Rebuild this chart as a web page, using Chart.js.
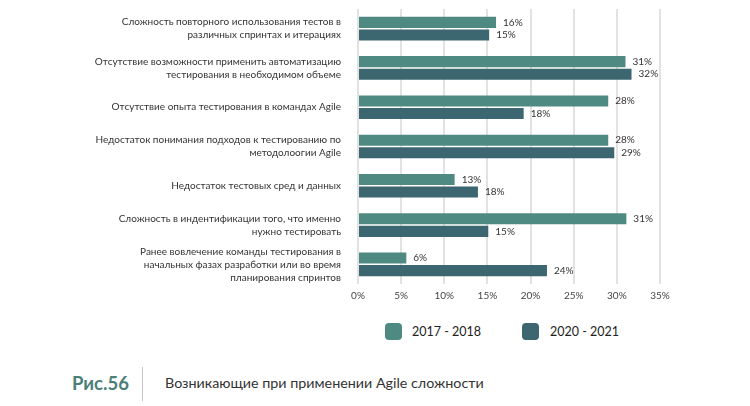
<!DOCTYPE html>
<html>
<head>
<meta charset="utf-8">
<script src="https://cdn.jsdelivr.net/npm/chart.js@4.4.1/dist/chart.umd.min.js"></script>
<style>
  html, body { margin: 0; padding: 0; background: #fff; }
  body { width: 750px; height: 406px; position: relative; overflow: hidden; font-family: Lato, "Noto Sans", sans-serif; }
  #wrap { position: absolute; left: 0; top: 0; width: 750px; height: 312px; }
  .lg-box { position: absolute; top: 323px; width: 17px; height: 17px; border-radius: 4px; }
  .lg-text { position: absolute; top: 323px; line-height: 17px; font-size: 12.5px; color: #222; }
  #fig { position: absolute; left: 72px; top: 372px; font-size: 18.5px; font-weight: bold; color: #4d7f79; }
  #sep { position: absolute; left: 142px; top: 367px; width: 1px; height: 34px; background: #c9c9c9; }
  #caption { position: absolute; left: 165px; top: 374px; font-size: 14.3px; color: #333; }
</style>
</head>
<body>
<div id="wrap"><canvas id="chartCanvas"></canvas></div>
<div id="legend"></div>
<div id="fig">Рис.56</div>
<div id="sep"></div>
<div id="caption">Возникающие при применении Agile сложности</div>
<script>
  // категории (многострочные подписи)
  const categories = [
    ["Сложность повторного использования тестов в", "различных спринтах и итерациях"],
    ["Отсутствие возможности применить автоматизацию", "тестирования в необходимом объеме"],
    ["Отсутствие опыта тестирования в командах Agile"],
    ["Недостаток понимания подходов к тестированию по", "методолоогии Agile"],
    ["Недостаток тестовых сред и данных"],
    ["Сложность в индентификации того, что именно", "нужно тестировать"],
    ["Ранее вовлечение команды тестирования в", "начальных фазах разработки или во время", "планирования спринтов"]
  ];

  // длины столбиков, как они нарисованы
  const values2017 = [16, 31, 29, 29, 11.2, 31.1, 5.6];
  const values2020 = [15.2, 31.7, 19.2, 29.7, 13.9, 15.1, 21.9];

  // подписи над столбиками
  const labels2017 = ["16%", "31%", "28%", "28%", "13%", "31%", "6%"];
  const labels2020 = ["15%", "32%", "18%", "29%", "18%", "15%", "24%"];

  const seriesNames = ["2017 - 2018", "2020 - 2021"];
  const xTicks = [0, 5, 10, 15, 20, 25, 30, 35];

  const color2017 = "#4f8a82";
  const color2020 = "#3c6670";

  // легенда под графиком
  const legendEl = document.getElementById("legend");
  const legendPos = [[385, 412], [522, 550]];
  [color2017, color2020].forEach((c, i) => {
    const box = document.createElement("div");
    box.className = "lg-box";
    box.style.left = legendPos[i][0] + "px";
    box.style.background = c;
    legendEl.appendChild(box);
    const txt = document.createElement("div");
    txt.className = "lg-text";
    txt.style.left = legendPos[i][1] + "px";
    txt.textContent = seriesNames[i];
    legendEl.appendChild(txt);
  });

  // подписи значений справа от столбиков
  const valueLabels = {
    id: "valueLabels",
    afterDatasetsDraw(chart) {
      const ctx = chart.ctx;
      const texts = [labels2017, labels2020];
      ctx.save();
      ctx.font = "10px Lato, sans-serif";
      ctx.fillStyle = "#333";
      ctx.textBaseline = "middle";
      chart.data.datasets.forEach((ds, i) => {
        chart.getDatasetMeta(i).data.forEach((bar, j) => {
          ctx.fillText(texts[i][j], bar.x + 7, bar.y);
        });
      });
      ctx.restore();
    }
  };

  const ctx = document.getElementById("chartCanvas").getContext("2d");
  new Chart(ctx, {
    type: "bar",
    data: {
      labels: categories,
      datasets: [
        { label: seriesNames[0], data: values2017, backgroundColor: color2017 },
        { label: seriesNames[1], data: values2020, backgroundColor: color2020 }
      ]
    },
    options: {
      indexAxis: "y",
      responsive: true,
      maintainAspectRatio: false,
      animation: false,
      categoryPercentage: 0.64,
      barPercentage: 0.88,
      layout: { padding: { top: 9, right: 90, left: 0, bottom: 4 } },
      plugins: {
        legend: { display: false },
        tooltip: { enabled: false }
      },
      scales: {
        x: {
          min: 0,
          max: 35,
          afterBuildTicks: (scale) => { scale.ticks = xTicks.map(v => ({ value: v })); },
          ticks: {
            callback: (v) => v + "%",
            color: "#444",
            font: { family: "Lato", size: 10 },
            padding: 6
          },
          grid: { color: "#e2e2e2", lineWidth: 2, drawTicks: false },
          border: { display: false }
        },
        y: {
          afterFit: (scale) => {
            scale.width = 358;
            scale.paddingTop = 0;
            scale.paddingBottom = 0;
          },
          ticks: {
            autoSkip: false,
            color: "#333",
            font: { family: "Lato", size: 10, lineHeight: 1.3 },
            padding: 17
          },
          grid: { display: false, drawTicks: false },
          border: { display: false }
        }
      }
    },
    plugins: [valueLabels]
  });
</script>
</body>
</html>
